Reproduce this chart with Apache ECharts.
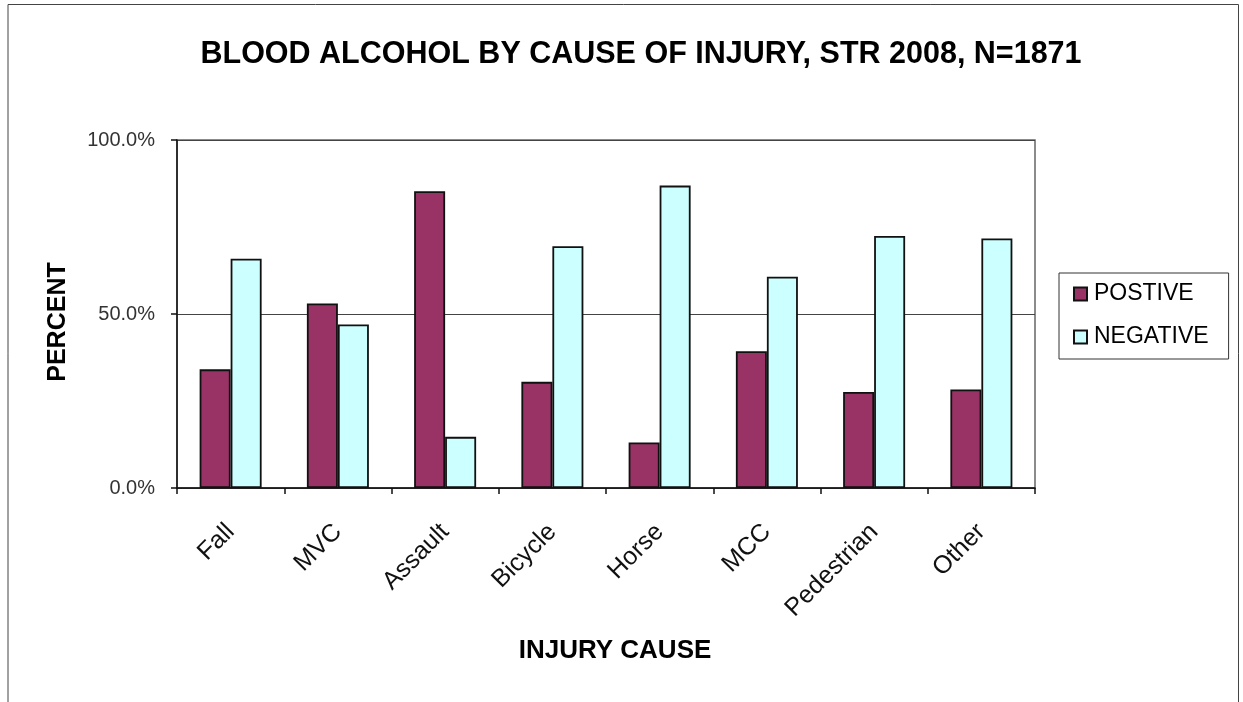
<!DOCTYPE html>
<html>
<head>
<meta charset="utf-8">
<title>Blood alcohol by cause of injury</title>
<script src="https://cdn.jsdelivr.net/npm/echarts@6/dist/echarts.min.js"></script>
<style>
  html, body { margin: 0; padding: 0; background: #fff; }
  #chart { width: 1243px; height: 702px; }
</style>
</head>
<body>
<div id="chart"></div>
<script>
// Injury causes along the x axis
const causes = ['Fall', 'MVC', 'Assault', 'Bicycle', 'Horse', 'MCC', 'Pedestrian', 'Other'];
// Share of patients (%) with a positive blood alcohol result
const positive = [34.1, 53.0, 85.3, 30.5, 13.1, 39.3, 27.6, 28.3];
// Share of patients (%) with a negative blood alcohol result
const negative = [65.9, 47.0, 14.7, 69.5, 86.9, 60.7, 72.4, 71.7];
// Value axis ticks
const yTicks = [0, 50, 100];

const FONT = '"Liberation Sans", Arial, sans-serif';

const chart = echarts.init(document.getElementById('chart'), null, { renderer: 'canvas' });

chart.setOption({
  backgroundColor: '#ffffff',
  animation: false,
  textStyle: { fontFamily: FONT },
  title: {
    text: 'BLOOD ALCOHOL BY CAUSE OF INJURY, STR 2008, N=1871',
    left: 636,
    top: 34,
    textAlign: 'center',
    textStyle: { fontFamily: FONT, fontSize: 30.5, fontWeight: 'bold', color: '#000' }
  },
  legend: {
    left: 1059,
    top: 273,
    orient: 'vertical',
    itemWidth: 13,
    itemHeight: 13,
    itemGap: 17,
    padding: [8, 20, 9, 14],
    borderColor: '#333',
    borderWidth: 1,
    icon: 'rect',
    textStyle: { fontFamily: FONT, fontSize: 23, color: '#000', lineHeight: 26, padding: [0, 0, 0, 2] },
    data: ['POSTIVE', 'NEGATIVE']
  },
  grid: {
    left: 177,
    right: 208,
    top: 140,
    bottom: 214,
    show: true,
    borderColor: '#666',
    borderWidth: 1.5,
    backgroundColor: '#fff'
  },
  xAxis: {
    type: 'category',
    data: causes,
    name: 'INJURY CAUSE',
    nameLocation: 'middle',
    nameGap: 150,
    nameTextStyle: { fontFamily: FONT, fontSize: 26, fontWeight: 'bold', color: '#000', padding: [0, 0, 0, 18] },
    axisLine: { show: true, lineStyle: { color: '#111', width: 1.5 } },
    axisTick: { show: true, length: 6, inside: false, lineStyle: { color: '#111', width: 1.5 } },
    axisLabel: {
      rotate: 45,
      margin: 40,
      fontFamily: FONT,
      fontSize: 25,
      color: '#111',
      interval: 0
    }
  },
  yAxis: {
    type: 'value',
    min: yTicks[0],
    max: yTicks[yTicks.length - 1],
    interval: yTicks[1] - yTicks[0],
    name: 'PERCENT',
    nameLocation: 'middle',
    nameGap: 106,
    nameTextStyle: { fontFamily: FONT, fontSize: 25, fontWeight: 'bold', color: '#000', padding: [0, 16, 0, 0] },
    axisLine: { show: true, lineStyle: { color: '#111', width: 1.5 } },
    axisTick: { show: true, length: 6, lineStyle: { color: '#111', width: 1.5 } },
    axisLabel: {
      margin: 22,
      fontFamily: FONT,
      fontSize: 20,
      color: '#333',
      formatter: v => v.toFixed(1) + '%'
    },
    splitLine: { show: true, lineStyle: { color: '#444', width: 1.2 } }
  },
  series: [
    {
      name: 'POSTIVE',
      type: 'bar',
      data: positive,
      barWidth: 31,
      barGap: '0%',
      itemStyle: { color: '#993366', borderColor: '#111', borderWidth: 1.8 }
    },
    {
      name: 'NEGATIVE',
      type: 'bar',
      data: negative,
      barWidth: 31,
      barGap: '0%',
      itemStyle: { color: '#CCFFFF', borderColor: '#111', borderWidth: 1.8 }
    }
  ],
  graphic: [
    {
      // page frame around the figure
      type: 'polyline',
      silent: true,
      z: 100,
      shape: { points: [[8, 710], [8, 4.5], [1238.5, 4.5], [1238.5, 710]] },
      style: { fill: null, stroke: '#444', lineWidth: 1 }
    }
  ]
});
</script>
</body>
</html>
